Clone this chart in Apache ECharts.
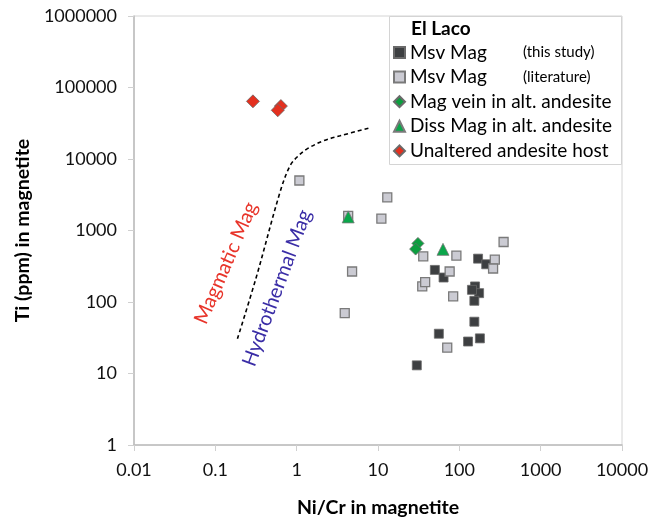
<!DOCTYPE html>
<html>
<head>
<meta charset="utf-8">
<script src="https://cdn.jsdelivr.net/npm/echarts@6/dist/echarts.min.js"></script>
<style>
  html, body { margin: 0; padding: 0; background: #fff; }
  #chart { width: 660px; height: 523px; }
</style>
</head>
<body>
<div id="chart"></div>
<script>
// tick labels
const xTickLabels = ['0.01', '0.1', '1', '10', '100', '1000', '10000'];
const yTickLabels = ['1', '10', '100', '1000', '10000', '100000', '1000000'];

// Msv Mag (this study)
const thisStudyX = [170, 214, 50, 64, 156, 175, 143, 153, 153, 56, 128, 179, 30];
const thisStudyY = [404, 337, 281, 220, 165, 133, 148, 104, 53, 36, 28, 31, 13];

// Msv Mag (literature)
const literatureX = [1.08, 13, 11, 4.3, 4.8, 3.9, 36, 92, 350, 273, 260, 76, 35, 38, 84, 71];
const literatureY = [5000, 2900, 1470, 1600, 267, 70, 435, 445, 690, 392, 294, 267, 165, 190, 120, 23];

// Mag vein in alt. andesite
const veinX = [31, 29];
const veinY = [660, 550];

// Diss Mag in alt. andesite
const dissX = [4.3, 63];
const dissY = [1550, 545];

// Unaltered andesite host
const hostX = [0.29, 0.64, 0.585];
const hostY = [64000, 55000, 48000];

// dashed boundary magmatic / hydrothermal
const curveX = [0.187, 0.316, 0.625, 0.83, 1.05, 1.33, 2.13, 3.42, 7.62];
const curveY = [30.6, 215, 3450, 8070, 11100, 13770, 17960, 21080, 26970];

const pairs = (xs, ys) => xs.map((x, i) => [x, ys[i]]);

const chart = echarts.init(document.getElementById('chart'));

const font = 'Lato, "Open Sans", sans-serif';

const option = {
  animation: false,
  grid: {
    left: 134, top: 16, right: 38, bottom: 75,
    show: true, borderColor: '#d4d4d4', borderWidth: 1
  },
  title: {
    text: 'El Laco',
    left: 406, top: 14, z: 20,
    textStyle: { fontFamily: font, fontWeight: 'bold', fontSize: 19, color: '#000' }
  },
  legend: {
    orient: 'vertical',
    left: 393, top: 42.5, z: 20,
    padding: 0,
    itemWidth: 11, itemHeight: 11,
    itemGap: 4.6,
    data: ['Msv Mag (this study)', 'Msv Mag (literature)', 'Mag vein in alt. andesite',
      'Diss Mag in alt. andesite', 'Unaltered andesite host'],
    textStyle: {
      fontFamily: font, fontSize: 19, color: '#000', lineHeight: 20,
      rich: {
        a: { fontFamily: font, fontSize: 19, color: '#000', width: 113, lineHeight: 20 },
        b: { fontFamily: font, fontSize: 15, color: '#000', lineHeight: 20 }
      }
    },
    formatter: function (name) {
      if (name.indexOf('Msv Mag ') === 0) {
        return '{a|Msv Mag}{b|' + name.slice(8) + '}';
      }
      return name;
    }
  },
  xAxis: {
    type: 'log', logBase: 10, min: 0.01, max: 10000,
    name: 'Ni/Cr in magnetite', nameLocation: 'middle', nameGap: 53,
    nameTextStyle: { fontFamily: font, fontWeight: 'bold', fontSize: 19.5, color: '#000' },
    axisLine: { lineStyle: { color: '#bdbdbd', width: 1.5 } },
    axisTick: { show: true, inside: false, length: 6, lineStyle: { color: '#d0d0d0' } },
    minorTick: { show: false },
    splitLine: { show: false },
    axisLabel: {
      fontFamily: font, fontSize: 18, color: '#111', margin: 16,
      formatter: (v, i) => xTickLabels[i]
    }
  },
  yAxis: {
    type: 'log', logBase: 10, min: 1, max: 1000000,
    name: 'Ti (ppm) in magnetite', nameLocation: 'middle', nameGap: 99,
    nameTextStyle: { fontFamily: font, fontWeight: 'bold', fontSize: 19.5, color: '#000' },
    axisLine: { show: true, lineStyle: { color: '#bdbdbd', width: 1.5 } },
    axisTick: { show: true, inside: false, length: 6, lineStyle: { color: '#d0d0d0' } },
    splitLine: { show: false },
    axisLabel: {
      fontFamily: font, fontSize: 18, color: '#111', margin: 17,
      formatter: (v, i) => yTickLabels[i]
    }
  },
  graphic: [
    {
      type: 'rect', z: 5,
      shape: { x: 389.5, y: 16.5, width: 232, height: 148 },
      style: { fill: '#fff', stroke: '#d4d4d4', lineWidth: 1 }
    },
    {
      type: 'text', x: 226, y: 263, rotation: 66.7 * Math.PI / 180,
      style: {
        text: 'Magmatic Mag', fill: '#e8342a', fontFamily: font, fontSize: 20,
        textAlign: 'center', textVerticalAlign: 'middle', align: 'center', verticalAlign: 'middle'
      }
    },
    {
      type: 'text', x: 277, y: 288, rotation: 69.7 * Math.PI / 180,
      style: {
        text: 'Hydrothermal Mag', fill: '#3a2da6', fontFamily: font, fontSize: 20,
        textAlign: 'center', textVerticalAlign: 'middle', align: 'center', verticalAlign: 'middle'
      }
    }
  ],
  series: [
    {
      name: 'boundary', type: 'line', data: pairs(curveX, curveY),
      smooth: 0.35, symbol: 'none', silent: true,
      lineStyle: { color: '#000', width: 1.6, type: [4, 3] }
    },
    {
      name: 'Msv Mag (this study)', type: 'scatter', symbol: 'rect', symbolSize: 9,
      data: pairs(thisStudyX, thisStudyY),
      itemStyle: { color: '#3d3f41', borderColor: '#6a6a6a', borderWidth: 0.8, opacity: 1 }
    },
    {
      name: 'Msv Mag (literature)', type: 'scatter', symbol: 'rect', symbolSize: 9,
      data: pairs(literatureX, literatureY),
      itemStyle: { color: '#cbcbd3', borderColor: '#7a7a7a', borderWidth: 1.3, opacity: 1 }
    },
    {
      name: 'Mag vein in alt. andesite', type: 'scatter', symbol: 'diamond', symbolSize: 12,
      data: pairs(veinX, veinY),
      itemStyle: { color: '#0c9e3f', borderColor: '#6a6a6a', borderWidth: 0.8, opacity: 1 }
    },
    {
      name: 'Diss Mag in alt. andesite', type: 'scatter', symbol: 'triangle', symbolSize: 12,
      data: pairs(dissX, dissY),
      itemStyle: { color: '#0aa64a', borderColor: '#7a7a7a', borderWidth: 0.8, opacity: 1 }
    },
    {
      name: 'Unaltered andesite host', type: 'scatter', symbol: 'diamond', symbolSize: 13,
      data: pairs(hostX, hostY),
      itemStyle: { color: '#e3301f', borderColor: '#6a6a6a', borderWidth: 0.8, opacity: 1 }
    }
  ]
};

chart.setOption(option);
</script>
</body>
</html>
